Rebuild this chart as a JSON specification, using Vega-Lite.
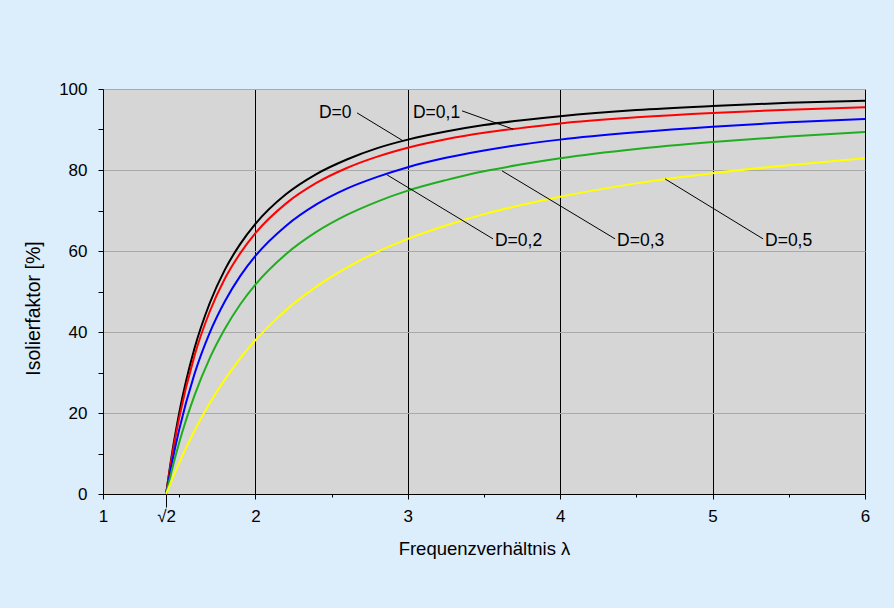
{
  "$schema": "https://vega.github.io/schema/vega-lite/v6.json",
  "width": 762,
  "height": 405,
  "autosize": {"type": "none"},
  "padding": {"left": 103, "top": 89, "right": 29, "bottom": 114},
  "background": "#dcedfb",
  "config": {
    "view": {"fill": "#d6d6d6", "stroke": null},
    "font": "Liberation Sans",
    "axis": {
      "domainColor": "#000000",
      "tickColor": "#000000",
      "labelColor": "#000000",
      "titleColor": "#000000",
      "labelFontSize": 17,
      "titleFontSize": 18.5,
      "titleFontWeight": "normal",
      "labelFont": "Liberation Sans",
      "titleFont": "Liberation Sans"
    }
  },
  "datasets": {
    "curves": [
      {"lambda": 1.4142, "iso": 0, "D": "D=0"},
      {"lambda": 1.45, "iso": 9.3, "D": "D=0"},
      {"lambda": 1.5, "iso": 20.0, "D": "D=0"},
      {"lambda": 1.6, "iso": 35.9, "D": "D=0"},
      {"lambda": 1.7, "iso": 47.1, "D": "D=0"},
      {"lambda": 1.8, "iso": 55.4, "D": "D=0"},
      {"lambda": 1.9, "iso": 61.7, "D": "D=0"},
      {"lambda": 2.0, "iso": 66.7, "D": "D=0"},
      {"lambda": 2.2, "iso": 74.0, "D": "D=0"},
      {"lambda": 2.4, "iso": 79.0, "D": "D=0"},
      {"lambda": 2.6, "iso": 82.6, "D": "D=0"},
      {"lambda": 2.8, "iso": 85.4, "D": "D=0"},
      {"lambda": 3.0, "iso": 87.5, "D": "D=0"},
      {"lambda": 3.25, "iso": 89.5, "D": "D=0"},
      {"lambda": 3.5, "iso": 91.1, "D": "D=0"},
      {"lambda": 3.75, "iso": 92.3, "D": "D=0"},
      {"lambda": 4.0, "iso": 93.3, "D": "D=0"},
      {"lambda": 4.5, "iso": 94.8, "D": "D=0"},
      {"lambda": 5.0, "iso": 95.8, "D": "D=0"},
      {"lambda": 5.5, "iso": 96.6, "D": "D=0"},
      {"lambda": 6.0, "iso": 97.1, "D": "D=0"},

      {"lambda": 1.4142, "iso": 0, "D": "D=0,1"},
      {"lambda": 1.45, "iso": 8.7, "D": "D=0,1"},
      {"lambda": 1.5, "iso": 18.8, "D": "D=0,1"},
      {"lambda": 1.6, "iso": 34.1, "D": "D=0,1"},
      {"lambda": 1.7, "iso": 45.0, "D": "D=0,1"},
      {"lambda": 1.8, "iso": 53.2, "D": "D=0,1"},
      {"lambda": 1.9, "iso": 59.4, "D": "D=0,1"},
      {"lambda": 2.0, "iso": 64.4, "D": "D=0,1"},
      {"lambda": 2.2, "iso": 71.7, "D": "D=0,1"},
      {"lambda": 2.4, "iso": 76.8, "D": "D=0,1"},
      {"lambda": 2.6, "iso": 80.5, "D": "D=0,1"},
      {"lambda": 2.8, "iso": 83.3, "D": "D=0,1"},
      {"lambda": 3.0, "iso": 85.5, "D": "D=0,1"},
      {"lambda": 3.25, "iso": 87.6, "D": "D=0,1"},
      {"lambda": 3.5, "iso": 89.2, "D": "D=0,1"},
      {"lambda": 3.75, "iso": 90.4, "D": "D=0,1"},
      {"lambda": 4.0, "iso": 91.5, "D": "D=0,1"},
      {"lambda": 4.5, "iso": 93.0, "D": "D=0,1"},
      {"lambda": 5.0, "iso": 94.1, "D": "D=0,1"},
      {"lambda": 5.5, "iso": 94.9, "D": "D=0,1"},
      {"lambda": 6.0, "iso": 95.5, "D": "D=0,1"},

      {"lambda": 1.4142, "iso": 0, "D": "D=0,2"},
      {"lambda": 1.45, "iso": 7.2, "D": "D=0,2"},
      {"lambda": 1.5, "iso": 15.9, "D": "D=0,2"},
      {"lambda": 1.6, "iso": 29.6, "D": "D=0,2"},
      {"lambda": 1.7, "iso": 39.8, "D": "D=0,2"},
      {"lambda": 1.8, "iso": 47.6, "D": "D=0,2"},
      {"lambda": 1.9, "iso": 53.8, "D": "D=0,2"},
      {"lambda": 2.0, "iso": 58.8, "D": "D=0,2"},
      {"lambda": 2.2, "iso": 66.2, "D": "D=0,2"},
      {"lambda": 2.4, "iso": 71.5, "D": "D=0,2"},
      {"lambda": 2.6, "iso": 75.4, "D": "D=0,2"},
      {"lambda": 2.8, "iso": 78.3, "D": "D=0,2"},
      {"lambda": 3.0, "iso": 80.7, "D": "D=0,2"},
      {"lambda": 3.25, "iso": 83.0, "D": "D=0,2"},
      {"lambda": 3.5, "iso": 84.8, "D": "D=0,2"},
      {"lambda": 3.75, "iso": 86.3, "D": "D=0,2"},
      {"lambda": 4.0, "iso": 87.5, "D": "D=0,2"},
      {"lambda": 4.5, "iso": 89.3, "D": "D=0,2"},
      {"lambda": 5.0, "iso": 90.7, "D": "D=0,2"},
      {"lambda": 5.5, "iso": 91.8, "D": "D=0,2"},
      {"lambda": 6.0, "iso": 92.6, "D": "D=0,2"},

      {"lambda": 1.4142, "iso": 0, "D": "D=0,3"},
      {"lambda": 1.45, "iso": 5.6, "D": "D=0,3"},
      {"lambda": 1.5, "iso": 12.7, "D": "D=0,3"},
      {"lambda": 1.6, "iso": 24.3, "D": "D=0,3"},
      {"lambda": 1.7, "iso": 33.5, "D": "D=0,3"},
      {"lambda": 1.8, "iso": 40.8, "D": "D=0,3"},
      {"lambda": 1.9, "iso": 46.8, "D": "D=0,3"},
      {"lambda": 2.0, "iso": 51.7, "D": "D=0,3"},
      {"lambda": 2.2, "iso": 59.2, "D": "D=0,3"},
      {"lambda": 2.4, "iso": 64.7, "D": "D=0,3"},
      {"lambda": 2.6, "iso": 68.9, "D": "D=0,3"},
      {"lambda": 2.8, "iso": 72.2, "D": "D=0,3"},
      {"lambda": 3.0, "iso": 74.9, "D": "D=0,3"},
      {"lambda": 3.25, "iso": 77.5, "D": "D=0,3"},
      {"lambda": 3.5, "iso": 79.7, "D": "D=0,3"},
      {"lambda": 3.75, "iso": 81.4, "D": "D=0,3"},
      {"lambda": 4.0, "iso": 82.9, "D": "D=0,3"},
      {"lambda": 4.5, "iso": 85.2, "D": "D=0,3"},
      {"lambda": 5.0, "iso": 86.9, "D": "D=0,3"},
      {"lambda": 5.5, "iso": 88.3, "D": "D=0,3"},
      {"lambda": 6.0, "iso": 89.4, "D": "D=0,3"},

      {"lambda": 1.4142, "iso": 0, "D": "D=0,5"},
      {"lambda": 1.45, "iso": 3.3, "D": "D=0,5"},
      {"lambda": 1.5, "iso": 7.7, "D": "D=0,5"},
      {"lambda": 1.6, "iso": 15.6, "D": "D=0,5"},
      {"lambda": 1.7, "iso": 22.4, "D": "D=0,5"},
      {"lambda": 1.8, "iso": 28.3, "D": "D=0,5"},
      {"lambda": 1.9, "iso": 33.5, "D": "D=0,5"},
      {"lambda": 2.0, "iso": 38.0, "D": "D=0,5"},
      {"lambda": 2.2, "iso": 45.4, "D": "D=0,5"},
      {"lambda": 2.4, "iso": 51.2, "D": "D=0,5"},
      {"lambda": 2.6, "iso": 55.9, "D": "D=0,5"},
      {"lambda": 2.8, "iso": 59.8, "D": "D=0,5"},
      {"lambda": 3.0, "iso": 63.0, "D": "D=0,5"},
      {"lambda": 3.25, "iso": 66.3, "D": "D=0,5"},
      {"lambda": 3.5, "iso": 69.1, "D": "D=0,5"},
      {"lambda": 3.75, "iso": 71.4, "D": "D=0,5"},
      {"lambda": 4.0, "iso": 73.4, "D": "D=0,5"},
      {"lambda": 4.5, "iso": 76.7, "D": "D=0,5"},
      {"lambda": 5.0, "iso": 79.2, "D": "D=0,5"},
      {"lambda": 5.5, "iso": 81.2, "D": "D=0,5"},
      {"lambda": 6.0, "iso": 82.9, "D": "D=0,5"}
    ],
    "labels": [
      {"label": "D=0", "tx": 2.417, "ty": 94.1, "lx": 2.667, "ly": 94.1, "lx2": 2.969, "ly2": 87.2},
      {"label": "D=0,1", "tx": 3.034, "ty": 94.1, "lx": 3.356, "ly": 94.6, "lx2": 3.69, "ly2": 90.1},
      {"label": "D=0,2", "tx": 3.572, "ty": 62.5, "lx": 2.864, "ly": 78.8, "lx2": 3.559, "ly2": 63.0},
      {"label": "D=0,3", "tx": 4.373, "ty": 62.5, "lx": 3.618, "ly": 79.8, "lx2": 4.36, "ly2": 63.0},
      {"label": "D=0,5", "tx": 5.344, "ty": 62.5, "lx": 4.688, "ly": 77.8, "lx2": 5.331, "ly2": 63.0}
    ]
  },
  "layer": [
    {
      "data": {"name": "curves"},
      "mark": {"type": "line", "strokeWidth": 2, "interpolate": "monotone"},
      "encoding": {
        "x": {
          "field": "lambda",
          "type": "quantitative",
          "scale": {"domain": [1, 6], "nice": false, "zero": false},
          "axis": {
            "title": "Frequenzverhältnis λ",
            "titleFontSize": 18.5,
            "titleBaseline": "alphabetic",
            "titleY": 60,
            "titleX": 381,
            "titleAlign": "center",
            "values": [1, 1.41421, 1.5, 2, 2.5, 3, 3.5, 4, 4.5, 5, 5.5, 6],
            "labelExpr": "abs(datum.value - 1.41421) < 0.001 ? '√2' : (datum.value % 1 == 0 ? format(datum.value, 'd') : '')",
            "tickSize": {"condition": [
              {"test": "abs(datum.value - 1.41421) < 0.001", "value": 13},
              {"test": "datum.value % 1 != 0", "value": 3}
            ], "value": 5},
            "labelPadding": {"condition": {"test": "abs(datum.value - 1.41421) < 0.001", "value": 1}, "value": 9},
            "labelFlush": false,
            "gridColor": "#000000",
            "gridOpacity": {"condition": {"test": "datum.value % 1 != 0 || datum.value == 1", "value": 0}, "value": 1}
          }
        },
        "y": {
          "field": "iso",
          "type": "quantitative",
          "scale": {"domain": [0, 100], "nice": false},
          "axis": {
            "title": "Isolierfaktor [%]",
            "titleFontSize": 19.5,
            "titleAngle": -90,
            "titleAlign": "center",
            "titleBaseline": "middle",
            "titleX": -70,
            "titleY": 219,
            "values": [0, 10, 20, 30, 40, 50, 60, 70, 80, 90, 100],
            "labelExpr": "datum.value % 20 == 0 ? datum.label : ''",
            "tickSize": 5,
            "labelPadding": 11,
            "labelFlush": false,
            "gridColor": "#a9a9a9",
            "gridOpacity": {"condition": {"test": "datum.value % 20 != 0 || datum.value == 0", "value": 0}, "value": 1}
          }
        },
        "color": {
          "field": "D",
          "type": "nominal",
          "scale": {
            "domain": ["D=0", "D=0,1", "D=0,2", "D=0,3", "D=0,5"],
            "range": ["#000000", "#ff0000", "#0000ff", "#1fae1f", "#ffff00"]
          },
          "legend": null
        }
      }
    },
    {
      "data": {"name": "labels"},
      "mark": {"type": "rule", "color": "#000000", "strokeWidth": 1},
      "encoding": {
        "x": {"field": "lx", "type": "quantitative"},
        "y": {"field": "ly", "type": "quantitative"},
        "x2": {"field": "lx2"},
        "y2": {"field": "ly2"}
      }
    },
    {
      "data": {"name": "labels"},
      "mark": {"type": "text", "align": "left", "baseline": "middle", "fontSize": 17.5, "font": "Liberation Sans", "color": "#000000"},
      "encoding": {
        "x": {"field": "tx", "type": "quantitative"},
        "y": {"field": "ty", "type": "quantitative"},
        "text": {"field": "label"}
      }
    }
  ]
}
